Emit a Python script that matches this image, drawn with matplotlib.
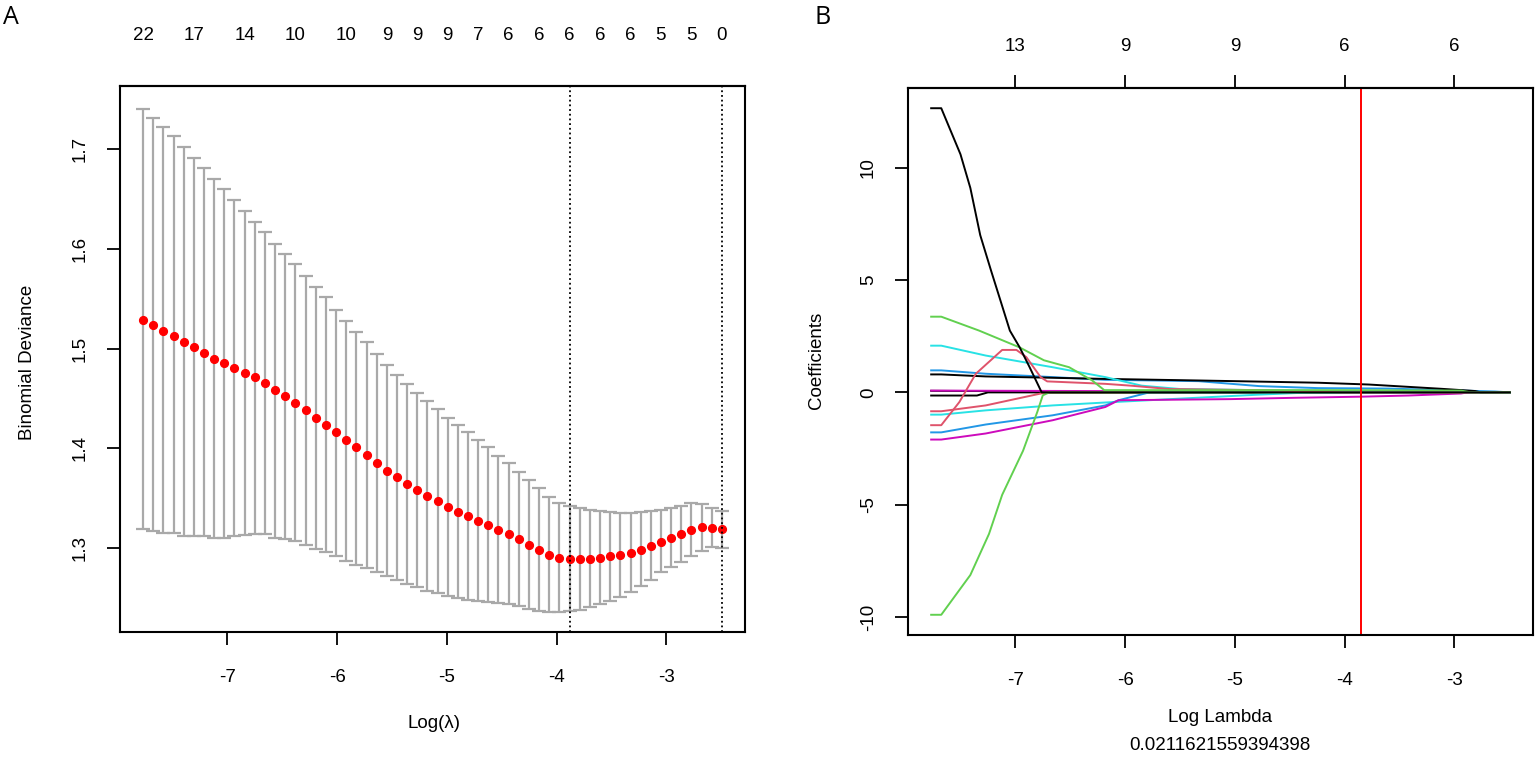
import numpy as np
import matplotlib
matplotlib.use("Agg")
import matplotlib.pyplot as plt

plt.rcParams['font.family'] = ['Liberation Sans', 'DejaVu Sans']
plt.rcParams['axes.unicode_minus'] = False

W, H = 1536, 763

# ---- panel A: cross-validated binomial deviance ----
log_lambda = [-7.767, -7.675, -7.582, -7.490, -7.397, -7.305, -7.212, -7.120, -7.027, -6.935,
              -6.842, -6.750, -6.657, -6.565, -6.472, -6.380, -6.287, -6.195, -6.102, -6.010,
              -5.917, -5.825, -5.732, -5.640, -5.547, -5.455, -5.362, -5.270, -5.177, -5.085,
              -4.992, -4.900, -4.807, -4.715, -4.622, -4.530, -4.437, -4.345, -4.252, -4.160,
              -4.067, -3.975, -3.882, -3.790, -3.697, -3.605, -3.512, -3.420, -3.327, -3.235,
              -3.142, -3.050, -2.957, -2.865, -2.772, -2.680, -2.587, -2.495]

cvm = [1.529, 1.524, 1.518, 1.513, 1.507, 1.502, 1.496, 1.490, 1.485, 1.480,
       1.475, 1.471, 1.465, 1.458, 1.452, 1.445, 1.438, 1.430, 1.423, 1.416,
       1.408, 1.401, 1.393, 1.385, 1.377, 1.371, 1.364, 1.358, 1.352, 1.347,
       1.341, 1.336, 1.332, 1.327, 1.323, 1.318, 1.314, 1.309, 1.303, 1.298,
       1.293, 1.290, 1.289, 1.289, 1.289, 1.290, 1.292, 1.293, 1.295, 1.298,
       1.302, 1.306, 1.310, 1.314, 1.318, 1.321, 1.320, 1.319]

cvup = [1.740, 1.731, 1.722, 1.713, 1.702, 1.691, 1.681, 1.670, 1.660, 1.649,
        1.638, 1.627, 1.617, 1.605, 1.595, 1.585, 1.573, 1.562, 1.552, 1.539,
        1.528, 1.517, 1.507, 1.495, 1.483, 1.473, 1.464, 1.455, 1.447, 1.439,
        1.430, 1.423, 1.416, 1.408, 1.401, 1.392, 1.385, 1.376, 1.368, 1.360,
        1.351, 1.345, 1.342, 1.340, 1.338, 1.337, 1.336, 1.335, 1.335, 1.336,
        1.337, 1.338, 1.340, 1.342, 1.345, 1.344, 1.340, 1.337]

cvlo = [1.319, 1.317, 1.315, 1.315, 1.312, 1.312, 1.312, 1.310, 1.310, 1.312,
        1.313, 1.314, 1.314, 1.310, 1.309, 1.307, 1.303, 1.299, 1.296, 1.292,
        1.287, 1.283, 1.280, 1.276, 1.272, 1.268, 1.264, 1.261, 1.257, 1.255,
        1.252, 1.250, 1.248, 1.247, 1.246, 1.245, 1.244, 1.242, 1.239, 1.237,
        1.236, 1.236, 1.237, 1.238, 1.241, 1.244, 1.247, 1.251, 1.256, 1.262,
        1.268, 1.276, 1.281, 1.286, 1.292, 1.297, 1.301, 1.300]

# number of non-zero coefficients shown on the top axis (index into log_lambda)
top_idx = [0, 5, 10, 15, 20, 24, 27, 30, 33, 36, 39, 42, 45, 48, 51, 54, 57]
top_nzero = [22, 17, 14, 10, 10, 9, 9, 9, 7, 6, 6, 6, 6, 6, 5, 5, 0]
min_idx = 42
se_idx = 57

# ---- panel B: coefficient paths (breakpoints) ----
black1_x = [-7.767, -7.675, -7.50, -7.41, -7.32, -7.22, -7.13, -7.05, -6.96, -6.87, -6.76, -2.495]
black1_y = [12.65, 12.65, 10.6, 9.1, 7.0, 5.4, 4.0, 2.75, 2.0, 1.12, 0.0, 0.0]
black2_x = [-7.767, -7.675, -7.27, -6.66, -6.18, -5.33, -4.78, -4.24, -3.78, -3.12, -2.81, -2.76, -2.495]
black2_y = [0.80, 0.80, 0.71, 0.65, 0.60, 0.53, 0.48, 0.43, 0.35, 0.16, 0.06, 0.0, 0.0]
black3_x = [-7.767, -6.90, -6.80, -2.495]
black3_y = [0.07, 0.05, 0.0, 0.0]
black4_x = [-7.767, -7.35, -7.25, -2.495]
black4_y = [-0.14, -0.14, 0.0, 0.0]
red1_x = [-7.767, -7.675, -7.51, -7.36, -7.12, -6.99, -6.90, -6.77, -6.71, -6.18, -5.95, -5.6, -4.8, -4.0, -2.495]
red1_y = [-1.46, -1.46, -0.43, 0.83, 1.89, 1.89, 1.57, 0.68, 0.49, 0.38, 0.30, 0.15, 0.10, 0.0, 0.0]
red2_x = [-7.767, -7.675, -7.27, -6.72, -2.495]
red2_y = [-0.84, -0.84, -0.58, 0.0, 0.0]
green1_x = [-7.767, -7.675, -7.33, -6.96, -6.74, -6.51, -6.30, -6.19, -4.0, -2.94, -2.85, -2.495]
green1_y = [3.37, 3.37, 2.75, 2.0, 1.43, 1.12, 0.53, 0.10, 0.10, 0.08, 0.0, 0.0]
green2_x = [-7.767, -7.675, -7.41, -7.24, -7.12, -6.93, -6.80, -6.75, -6.69, -2.495]
green2_y = [-9.9, -9.9, -8.13, -6.3, -4.56, -2.6, -0.87, -0.13, 0.0, 0.0]
blue1_x = [-7.767, -7.675, -7.27, -6.66, -6.18, -5.33, -4.78, -4.24, -3.6, -2.63, -2.495]
blue1_y = [0.98, 0.98, 0.83, 0.68, 0.56, 0.50, 0.28, 0.19, 0.17, 0.04, 0.0]
blue2_x = [-7.767, -7.675, -7.27, -6.66, -6.18, -6.06, -5.78, -2.495]
blue2_y = [-1.78, -1.78, -1.43, -1.02, -0.58, -0.35, 0.0, 0.0]
cyan1_x = [-7.767, -7.675, -7.27, -6.66, -6.18, -5.85, -5.50, -4.5, -2.495]
cyan1_y = [2.08, 2.08, 1.64, 1.12, 0.68, 0.30, 0.15, 0.08, 0.0]
cyan2_x = [-7.767, -7.675, -7.27, -6.66, -6.18, -5.51, -4.78, -4.3, -2.495]
cyan2_y = [-0.99, -0.99, -0.80, -0.58, -0.45, -0.28, -0.10, 0.0, 0.0]
magenta1_x = [-7.767, -7.675, -7.27, -6.66, -6.18, -6.06, -5.04, -4.45, -3.84, -3.42, -2.94, -2.88, -2.495]
magenta1_y = [-2.10, -2.10, -1.83, -1.24, -0.65, -0.35, -0.30, -0.24, -0.19, -0.14, -0.05, 0.0, 0.0]
magenta2_x = [-7.767, -5.5, -3.0, -2.9, -2.495]
magenta2_y = [0.08, 0.05, 0.03, 0.0, 0.0]

lambda_sel = 0.0211621559394398
coef_ticks = [-7, -6, -5, -4, -3]
coef_top = [13, 9, 9, 6, 6]

R_COLS = {'black': '#000000', 'red': '#DF536B', 'green': '#61D04F',
          'blue': '#2297E6', 'cyan': '#28E2E5', 'magenta': '#CD0BBC'}

paths = [
    ('black', black3_x, black3_y), ('black', black4_x, black4_y),
    ('magenta', magenta2_x, magenta2_y),
    ('red', red2_x, red2_y), ('cyan', cyan2_x, cyan2_y),
    ('blue', blue2_x, blue2_y), ('magenta', magenta1_x, magenta1_y),
    ('green', green2_x, green2_y),
    ('blue', blue1_x, blue1_y), ('black', black2_x, black2_y),
    ('cyan', cyan1_x, cyan1_y), ('red', red1_x, red1_y),
    ('green', green1_x, green1_y), ('black', black1_x, black1_y),
]


def add_axes_px(fig, left, top, right, bottom):
    return fig.add_axes([left / W, 1 - bottom / H, (right - left) / W, (bottom - top) / H])


def style_axes(ax):
    for s in ax.spines.values():
        s.set_linewidth(1.5)
    ax.tick_params(direction='out', length=9.5, width=1.3, labelsize=13.5, colors='black')
    ax.tick_params(axis='x', pad=17)
    ax.tick_params(axis='y', pad=13)


fig = plt.figure(figsize=(W / 100, H / 100), dpi=100)

# ---------------- panel A ----------------
axA = add_axes_px(fig, 120, 86, 745, 632)
axA.vlines(log_lambda, cvlo, cvup, color='#A9A9A9', lw=1.6)
axA.plot(log_lambda, cvup, ls='none', marker='_', ms=9.5, mew=1.6, color='#A9A9A9')
axA.plot(log_lambda, cvlo, ls='none', marker='_', ms=9.5, mew=1.6, color='#A9A9A9')
axA.plot(log_lambda, cvm, ls='none', marker='o', ms=5.6, color='red', mec='red')
axA.axvline(log_lambda[min_idx], color='black', lw=1.3, ls=(0, (1, 1.6)))
axA.axvline(log_lambda[se_idx], color='black', lw=1.3, ls=(0, (1, 1.6)))
axA.set_xlim(-7.978, -2.284)
axA.set_ylim(1.216, 1.763)
axA.set_xticks([-7, -6, -5, -4, -3])
axA.set_yticks([1.3, 1.4, 1.5, 1.6, 1.7])
axA.set_yticklabels(['1.3', '1.4', '1.5', '1.6', '1.7'], rotation=90, va='center')
style_axes(axA)
topA = axA.secondary_xaxis('top')
topA.set_xticks([log_lambda[i] for i in top_idx], [str(v) for v in top_nzero])
topA.tick_params(length=0, pad=30, labelsize=13.5)
topA.spines['top'].set_linewidth(1.5)

# ---------------- panel B ----------------
axB = add_axes_px(fig, 908, 88, 1533, 635)
for col, xs, ys in paths:
    axB.plot(xs, ys, color=R_COLS[col], lw=1.4)
axB.axvline(np.log(lambda_sel), color='red', lw=1.4)
axB.set_xlim(-7.978, -2.284)
axB.set_ylim(-10.8, 13.55)
axB.set_xticks(coef_ticks)
axB.set_yticks([-10, -5, 0, 5, 10])
axB.set_yticklabels(['-10', '-5', '0', '5', '10'], rotation=90, va='center')
style_axes(axB)
topB = axB.secondary_xaxis('top')
topB.set_xticks(coef_ticks, [str(v) for v in coef_top])
topB.tick_params(direction='out', length=9.5, width=1.3, pad=14, labelsize=13.5)
topB.spines['top'].set_linewidth(1.5)


def ftext(x, y, s, **kw):
    fig.text(x / W, 1 - y / H, s, ha='center', va='center', **kw)


ftext(28, 362, 'Binomial Deviance', rotation=90, fontsize=13.5)
ftext(434, 724, 'Log(\u03bb)', fontsize=13.5)
ftext(817, 360, 'Coefficients', rotation=90, fontsize=13.5)
ftext(1220, 718, 'Log Lambda', fontsize=13.5)
ftext(1220, 745, '0.0211621559394398', fontsize=13.5)
ftext(11, 18, 'A', fontsize=18, family=['Open Sans', 'DejaVu Sans'])
ftext(823, 18, 'B', fontsize=18, family=['Open Sans', 'DejaVu Sans'])

fig.savefig('out.png', dpi=100)
